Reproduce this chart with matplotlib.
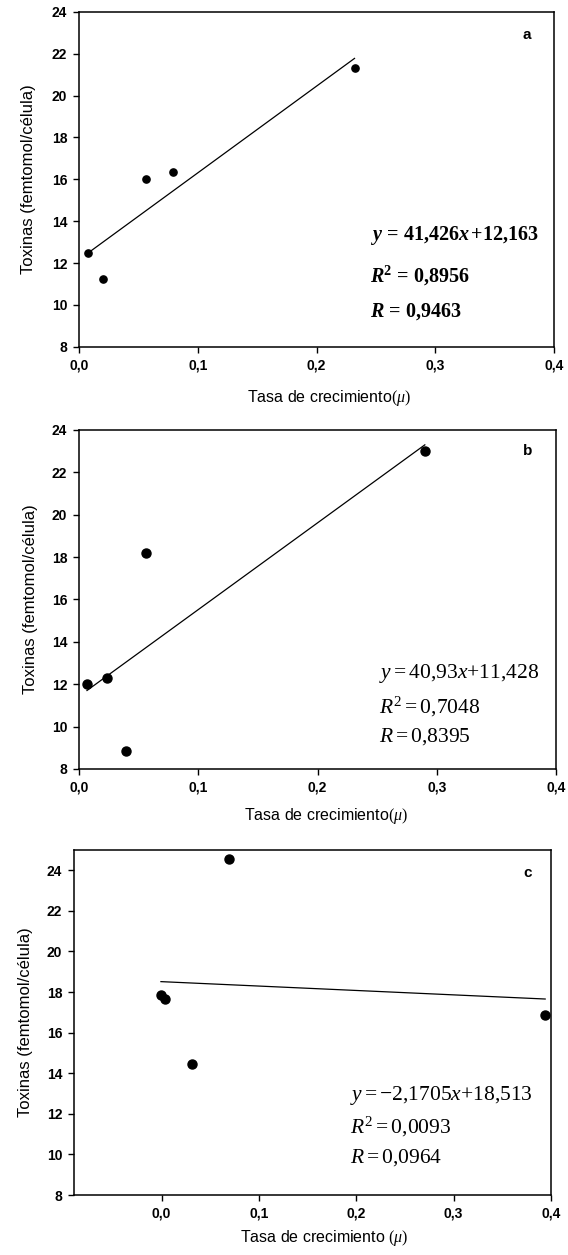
import matplotlib
matplotlib.use("Agg")
import matplotlib.pyplot as plt
from matplotlib.ticker import FuncFormatter

plt.rcParams['font.family'] = ['Liberation Sans', 'DejaVu Sans']
plt.rcParams['mathtext.fontset'] = 'custom'
plt.rcParams['mathtext.rm'] = 'Liberation Serif'
plt.rcParams['mathtext.it'] = 'Liberation Serif:italic'
plt.rcParams['mathtext.bf'] = 'Liberation Serif:bold'
plt.rcParams['mathtext.bfit'] = 'Liberation Serif:bold:italic'

# ---------------- data ----------------
panel_labels = ["a", "b", "c"]

x_a = [0.0076, 0.0204, 0.056, 0.079, 0.232]
y_a = [12.46, 11.22, 16.01, 16.36, 21.30]
x_b = [0.0067, 0.0237, 0.0395, 0.056, 0.290]
y_b = [12.00, 12.28, 8.85, 18.21, 23.02]
x_c = [-0.0007, 0.0037, 0.0316, 0.0687, 0.394]
y_c = [17.88, 17.68, 14.47, 24.58, 16.89]

slopes = [41.426, 40.93, -2.1705]
intercepts = [12.163, 11.428, 18.513]

eq_a = [r"$\mathbfit{y}\,\mathbf{=}\,\mathbf{41{,}426}\mathbfit{x}\,\mathbf{+12{,}163}$",
        r"$\mathbfit{R}^{\mathbf{2}}\,\mathbf{=}\,\mathbf{0{,}8956}$",
        r"$\mathbfit{R}\,\mathbf{=}\,\mathbf{0{,}9463}$"]
eq_b = [r"$\mathit{y}\mathrm{=40{,}93}\mathit{x}\mathrm{+11{,}428}$",
        r"$\mathit{R}^{\mathrm{2}}\mathrm{=0{,}7048}$",
        r"$\mathit{R}\mathrm{=0{,}8395}$"]
eq_c = [r"$\mathit{y}\mathrm{=-2{,}1705}\mathit{x}\mathrm{+18{,}513}$",
        r"$\mathit{R}^{\mathrm{2}}\mathrm{=0{,}0093}$",
        r"$\mathit{R}\mathrm{=0{,}0964}$"]

xticks = [0.0, 0.1, 0.2, 0.3, 0.4]
yticks_ab = [8, 10, 12, 14, 16, 18, 20, 22, 24]
yticks_c = [8, 10, 12, 14, 16, 18, 20, 22, 24]

ylabel = "Toxinas (femtomol/célula)"
xlabels = [r"Tasa de crecimiento$(\mathit{\mu})$",
           r"Tasa de crecimiento$(\mathit{\mu})$",
           r"Tasa de crecimiento $(\mathit{\mu})$"]

# ---------------- figure ----------------
fig = plt.figure(figsize=(5.68, 12.55), dpi=100)

rects = [
    [0.1391, 0.7237, 0.8363, 0.2669],
    [0.1391, 0.3873, 0.8398, 0.2701],
    [0.1303, 0.0478, 0.8398, 0.2749],
]
xlims = [(0.0, 0.4), (0.0, 0.4), (-0.09, 0.4)]
ylims = [(8, 24), (8, 24), (8, 25)]
xs = [x_a, x_b, x_c]
ys = [y_a, y_b, y_c]
eqs = [eq_a, eq_b, eq_c]
ms = [5.2, 6.5, 6.5]
eq_x = [0.612, 0.629, 0.579]
eq_y = [[0.318, 0.193, 0.089], [0.269, 0.165, 0.080], [0.275, 0.180, 0.093]]
eq_size = [14.5, 15.5, 15.5]
lab_pos = [(0.943, 0.93), (0.94, 0.938), (0.95, 0.933)]
ylab_x = [-0.0895, -0.087, -0.087]
xlab_y = [-0.122, -0.108, -0.095]
xlab_x = [0.526, 0.518, 0.525]

fmt = FuncFormatter(lambda v, p: f"{v:.1f}".replace(".", ","))

for i in range(3):
    ax = fig.add_axes(rects[i])
    ax.plot(xs[i], ys[i], 'o', color='black', ms=ms[i], zorder=3)
    x0, x1 = min(xs[i]), max(xs[i])
    ax.plot([x0, x1], [slopes[i] * x0 + intercepts[i], slopes[i] * x1 + intercepts[i]],
            '-', color='black', lw=0.9, zorder=2)
    ax.set_xlim(*xlims[i])
    ax.set_ylim(*ylims[i])
    ax.set_xticks(xticks)
    ax.set_yticks(yticks_c if i == 2 else yticks_ab)
    ax.xaxis.set_major_formatter(fmt)
    ax.tick_params(direction='out', length=4, width=1.0, labelsize=10, pad=4.5)
    for lab in ax.get_xticklabels() + ax.get_yticklabels():
        lab.set_fontweight('bold')
    for s in ax.spines.values():
        s.set_linewidth(1.1)
    ax.set_ylabel(ylabel, fontsize=12)
    ax.yaxis.set_label_coords(ylab_x[i], 0.5)
    ax.set_xlabel(xlabels[i], fontsize=11.5)
    ax.xaxis.set_label_coords(xlab_x[i], xlab_y[i])
    ax.text(lab_pos[i][0], lab_pos[i][1], panel_labels[i], transform=ax.transAxes,
            fontsize=11, fontweight='bold', ha='center', va='center')
    for line, yy in zip(eqs[i], eq_y[i]):
        ax.text(eq_x[i], yy, line, transform=ax.transAxes, fontsize=eq_size[i],
                ha='left', va='baseline')

fig.savefig("out.png", dpi=100)
